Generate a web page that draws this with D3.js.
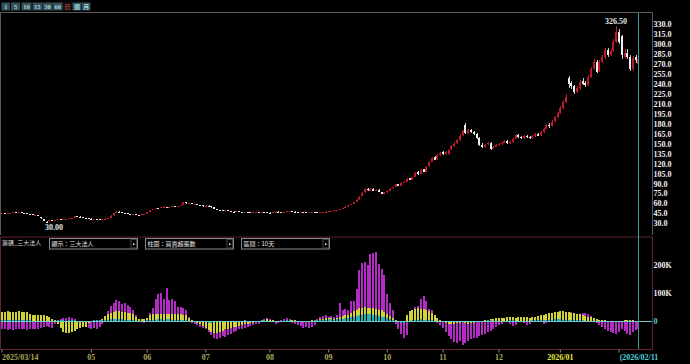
<!DOCTYPE html>
<html>
<head>
<meta charset="utf-8">
<script src="https://cdn.jsdelivr.net/npm/d3@7"></script>
<style>
  body { margin: 0; background: #000; overflow: hidden; }
  svg { display: block; }
</style>
</head>
<body>
<svg id="chart" width="690" height="364"></svg>
<script>
// trading calendar (weekdays minus exchange holidays)
var holidays = ["2025-04-03","2025-04-04","2025-05-01","2025-05-30","2025-09-29",
                "2025-10-06","2025-10-10","2025-10-24","2025-12-25","2026-01-01"];

// daily candles
var open = [44.5,44.9,44.3,44.9,45.7,46.4,45.9,46.4,45.8,45.1,
  44.2,43.5,42.0,42.6,39.0,36.5,32.5,32.8,34.5,33.9,
  35.3,36.1,35.5,36.3,36.7,37.6,38.5,40.8,40.2,39.4,
  38.4,37.7,37.1,36.5,36.9,36.4,35.9,36.3,37.2,38.5,
  41.8,45.3,47.3,46.6,45.7,44.9,44.3,43.5,43.9,42.7,
  42.5,43.4,44.2,46.8,50.0,51.2,53.2,52.7,54.3,54.9,
  54.1,54.6,55.4,55.1,56.3,57.8,61.8,60.1,60.7,58.8,
  59.5,57.9,56.9,55.4,56.5,55.3,53.9,51.6,50.4,49.7,
  48.7,49.4,48.6,47.7,47.1,47.9,47.1,46.4,46.9,46.3,
  45.8,46.5,47.4,46.7,47.1,46.5,46.2,45.9,46.7,47.6,
  47.1,46.4,47.2,47.9,48.3,47.7,47.1,46.7,47.5,47.0,
  46.2,46.6,47.3,46.7,46.1,46.4,46.9,47.5,48.1,48.7,
  49.6,50.3,51.1,52.8,55.4,57.8,59.4,62.4,66.0,70.8,
  76.5,81.5,79.2,81.8,78.6,80.2,77.2,74.2,76.8,79.3,
  82.5,84.5,88.8,86.3,91.0,92.5,97.5,95.3,99.5,106.8,
  104.5,111.0,107.8,115.5,122.8,129.5,126.5,133.5,136.8,134.5,
  134.5,141.5,146.5,150.5,155.5,162.5,178.0,166.5,170.5,167.5,
  164.5,159.0,148.5,145.5,148.8,151.5,142.5,145.5,148.3,149.3,
  151.3,153.8,150.7,152.3,157.5,163.5,160.3,158.7,161.3,160.2,
  158.3,161.8,164.5,162.3,167.5,172.5,178.5,176.3,183.5,190.5,
  196.5,203.5,212.5,248.0,240.5,236.5,227.5,233.5,243.5,240.5,
  238.5,250.5,263.5,273.5,258.5,273.5,280.5,291.5,283.5,290.5,
  303.5,318.0,312.0,280.0,287.0,280.5,262.5,280.0,270.0];
var high = [45.2,45.1,45.2,45.9,46.6,46.6,46.8,46.6,46.0,45.3,
  44.4,43.7,42.9,42.9,39.5,36.9,33.5,34.8,34.9,35.6,
  36.4,36.4,36.6,36.9,37.9,38.7,41.2,41.3,40.4,39.6,
  38.6,37.9,37.3,37.2,37.1,36.6,36.5,37.4,38.5,41.9,
  45.6,47.8,47.8,46.9,45.9,45.2,44.5,44.2,44.1,43.0,
  43.6,44.4,46.9,50.3,51.6,53.6,53.5,54.8,55.4,55.1,
  54.9,55.7,55.8,56.7,58.0,62.5,62.3,61.2,60.9,59.8,
  59.8,58.2,57.2,56.8,56.8,55.6,54.2,51.9,50.6,49.9,
  49.6,49.6,48.8,47.9,48.1,48.0,47.3,47.0,47.1,46.5,
  46.7,47.6,47.6,47.3,47.3,46.7,46.4,46.9,47.8,47.8,
  47.3,47.4,48.1,48.5,48.5,47.9,47.3,47.7,47.7,47.2,
  46.9,47.5,47.5,46.9,46.8,47.3,47.9,48.3,48.9,49.8,
  50.6,51.4,52.9,55.6,58.0,59.6,62.6,66.0,70.5,77.0,
  82.5,83.0,82.5,82.5,81.0,81.0,77.8,77.0,79.5,82.8,
  85.0,89.5,89.5,91.5,93.5,97.5,98.5,100.0,107.5,108.5,
  111.0,112.0,116.0,123.5,130.0,131.0,134.5,138.0,139.0,139.5,
  142.5,147.5,152.0,157.0,164.0,170.0,181.0,172.0,172.5,169.0,
  166.0,160.5,151.0,150.0,152.5,153.0,146.5,149.5,150.5,152.5,
  155.0,155.0,153.5,158.5,165.0,165.0,162.0,163.0,163.5,161.5,
  163.0,166.0,166.0,169.0,174.0,180.0,181.0,185.0,192.0,198.0,
  206.0,215.0,224.0,252.0,244.0,238.0,236.0,246.0,248.0,244.0,
  253.0,266.0,277.0,276.0,276.0,284.0,294.0,294.0,293.0,307.0,
  326.5,322.0,314.0,292.0,292.0,284.0,282.0,284.0,281.0];
var low = [44.2,43.9,44.0,44.7,45.4,45.5,45.6,45.4,44.7,44.0,
  43.3,41.9,41.8,41.2,37.0,33.2,30.0,32.5,33.2,33.6,
  35.0,35.0,35.2,36.0,36.4,37.3,38.2,39.6,39.0,37.9,
  37.3,36.7,36.2,36.3,36.0,35.7,35.6,36.0,37.0,38.2,
  41.5,45.0,46.1,45.3,44.5,43.9,43.3,43.2,42.4,42.1,
  42.2,43.1,44.0,46.5,49.7,50.9,52.3,52.4,53.9,53.7,
  53.8,54.3,54.7,54.9,56.0,57.5,59.8,59.7,58.6,58.5,
  57.5,56.5,55.2,55.1,55.0,53.5,51.2,49.9,49.3,48.5,
  48.5,48.3,47.4,46.9,46.9,46.8,46.2,46.1,46.0,45.6,
  45.6,46.3,46.6,46.5,46.2,45.9,45.8,45.7,46.5,46.8,
  46.3,46.2,47.0,47.7,47.4,46.8,46.5,46.5,46.7,46.1,
  46.0,46.4,46.4,46.0,45.9,46.2,46.7,47.3,47.9,48.5,
  49.3,50.0,50.8,52.5,55.0,57.3,59.0,62.0,65.5,70.5,
  76.0,78.5,78.8,78.5,78.0,76.5,73.5,73.8,76.0,78.8,
  82.0,84.0,85.5,86.0,90.0,92.0,94.5,95.0,99.0,103.0,
  104.0,107.0,107.5,115.0,122.0,125.0,126.0,132.0,133.0,133.5,
  133.0,140.5,145.5,149.5,154.5,161.0,164.0,165.0,166.0,162.5,
  157.0,147.0,143.5,144.5,147.5,140.5,141.5,144.5,147.0,148.0,
  150.5,149.5,149.5,151.5,156.5,158.5,157.5,157.5,158.5,157.0,
  157.5,160.5,161.0,161.5,166.5,171.5,174.0,175.5,182.5,189.0,
  195.0,202.0,211.0,234.0,232.0,225.0,226.0,231.0,238.0,235.0,
  237.0,249.0,261.0,256.0,257.0,271.0,278.0,281.0,282.0,288.0,
  302.0,300.0,278.0,277.0,278.0,259.0,260.0,272.0,268.0];
var close = [44.8,44.2,44.9,45.6,46.3,45.8,46.5,45.7,45.0,44.3,
  43.6,42.2,42.5,41.6,37.5,33.8,31.2,34.3,33.6,35.2,
  36.0,35.4,36.2,36.6,37.5,38.3,40.6,40.0,39.3,38.2,
  37.6,37.0,36.5,36.8,36.3,36.0,36.2,37.1,38.2,41.5,
  45.0,47.2,46.5,45.6,44.8,44.2,43.6,43.8,42.6,42.4,
  43.3,44.0,46.5,49.8,51.0,53.0,52.6,54.2,54.8,54.0,
  54.5,55.3,55.0,56.2,57.5,61.5,60.2,60.6,59.0,59.4,
  57.8,56.8,55.5,56.4,55.2,53.8,51.5,50.2,49.6,48.8,
  49.3,48.5,47.6,47.2,47.8,47.0,46.5,46.8,46.2,45.9,
  46.4,47.3,46.8,47.0,46.4,46.1,46.0,46.6,47.5,47.0,
  46.5,47.1,47.8,48.2,47.6,47.0,46.8,47.4,46.9,46.3,
  46.7,47.2,46.6,46.2,46.5,47.0,47.6,48.0,48.6,49.5,
  50.2,51.0,52.5,55.0,57.5,59.0,62.0,65.5,70.0,76.0,
  81.0,79.5,81.5,79.0,80.0,77.0,74.5,76.5,79.0,82.0,
  84.0,88.5,86.0,90.5,92.0,96.5,95.0,99.0,106.0,104.0,
  110.0,107.5,115.0,122.0,128.5,126.0,133.0,136.0,134.0,138.0,
  141.0,146.0,150.0,155.0,162.0,168.5,166.0,170.0,167.0,164.0,
  158.0,148.0,145.0,148.5,151.0,142.0,145.0,148.0,149.0,151.0,
  153.5,150.5,152.0,157.0,163.0,160.0,158.5,161.0,160.0,158.0,
  161.5,164.0,162.0,167.0,172.0,178.0,176.0,183.0,190.0,196.0,
  203.0,212.0,220.0,240.0,236.0,227.0,233.0,243.0,240.0,238.0,
  250.0,263.0,273.0,258.0,273.0,280.0,291.0,283.0,290.0,303.0,
  318.0,303.0,283.0,286.0,280.0,262.0,279.0,276.0,278.0];

// 10-day net buy/sell (thousand lots): foreign, investment trust, dealers
var foreign = [-28,-30,-32,-30,-31,-29,-30,-28,-30,-31,
  -30,-29,-28,-30,-26,-22,-18,-20,-24,-10,
  5,8,10,12,14,10,8,-6,-18,-20,
  -22,-26,-28,-24,-27,-20,-12,10,35,55,
  65,75,70,62,64,57,50,40,20,5,
  -5,-8,6,30,45,80,95,100,80,117,
  75,80,70,50,50,45,40,15,-8,-12,
  -15,-20,-25,-30,-40,-50,-60,-65,-62,-55,
  -58,-50,-45,-40,-35,-30,-28,-25,-22,-18,
  -15,-12,-10,-5,6,10,8,-5,-10,-6,
  5,8,12,6,-8,-12,-15,-18,-25,-22,
  -25,-20,-15,8,15,18,20,16,18,14,
  22,65,40,42,38,70,72,115,183,208,
  210,200,240,243,245,205,185,165,95,63,
  40,-10,-30,-45,-60,-50,25,28,50,55,
  80,90,70,42,38,10,-8,-15,-25,-40,
  -55,-65,-75,-80,-70,-86,-78,-72,-65,-60,
  -62,-55,-50,-48,-40,-35,-30,-22,-15,-10,
  8,12,-12,-18,-15,10,14,-8,-15,-10,
  12,16,18,8,-10,-6,12,20,25,28,
  30,25,22,28,32,30,26,22,28,30,
  25,18,10,-8,-15,-22,-30,-35,-40,-42,
  -48,-38,-30,-35,-45,-50,-40,-32,-28];
var trust = [33,33,34,33,32,33,34,33,32,33,
  25,22,22,21,22,20,18,14,8,2,
  -10,-25,-38,-42,-43,-40,-35,-28,-25,-22,
  -20,-8,-4,-2,3,5,8,18,25,30,
  33,34,35,33,32,30,28,25,15,8,
  6,8,12,20,24,26,25,24,26,25,
  24,25,26,25,24,22,20,10,2,-4,
  -8,-12,-18,-25,-32,-38,-42,-44,-40,-35,
  -30,-28,-25,-22,-20,-18,-16,-12,-10,-8,
  -6,-5,-3,3,4,6,5,3,-2,-4,
  -5,-3,2,4,5,3,-2,-4,-5,-3,
  -2,3,5,4,6,8,10,12,10,8,
  12,15,18,20,22,30,36,40,45,48,
  50,48,46,45,42,40,38,32,25,18,
  12,5,-5,-8,-6,20,35,40,42,45,
  44,42,40,36,30,22,12,5,-4,-8,
  -10,-12,-10,-8,-6,-5,-8,-10,-8,-6,
  -4,-3,-2,2,4,6,8,10,12,10,
  12,14,15,13,12,14,15,16,14,12,
  14,16,18,20,22,25,28,30,32,33,
  34,35,33,32,30,28,26,24,20,18,
  16,14,12,8,5,3,2,-2,-3,-4,
  -5,-3,-2,2,3,4,2,1,-2];
var dealer = [3,3,2,2,3,2,2,3,2,2,
  2,1,1,-2,-3,-4,-3,-2,-1,1,
  2,3,2,1,2,3,2,1,-1,-2,
  -2,-1,1,2,2,3,3,4,5,6,
  6,7,8,6,5,4,3,2,1,0,
  -1,1,2,3,4,5,6,6,5,6,
  6,5,4,4,3,3,2,1,0,-1,
  -2,-3,-4,-5,-6,-6,-5,-4,-3,-3,
  -2,-2,-1,-1,0,1,1,2,1,0,
  0,1,1,2,2,1,0,-1,-1,0,
  1,1,2,2,1,0,-1,-1,-2,-2,
  -1,0,2,3,4,5,5,6,6,5,
  6,7,8,10,12,14,16,18,20,22,
  24,25,24,22,20,18,16,14,10,6,
  3,-2,-4,-6,-8,-5,-2,2,4,5,
  6,5,4,3,2,0,-2,-3,-4,-4,
  -5,-5,-4,-4,-3,-3,-2,-2,-1,-1,
  0,0,1,1,2,2,1,1,0,0,
  1,1,2,2,1,1,0,0,1,1,
  2,2,3,3,4,4,5,5,6,6,
  6,5,5,4,4,3,3,2,2,1,
  1,0,-1,-1,-2,-2,-3,-3,-2,-2,
  -3,-2,-2,-1,-1,-2,-2,-1,-1];

var priceTicks = d3.range(30, 331, 15);
var volTicks = [0, 100, 200];
var periodButtons = ["1","5","10","15","30","60","日","週","月"];
var dropdowns = ["顯示：三大法人","柱圖：買賣超張數","區間：10天"];
var panelTitle = "籌碼_三大法人";

// build the trading days
var fmt = d3.timeFormat("%Y-%m-%d");
var days = d3.timeDay.range(new Date(2025, 2, 14), new Date(2026, 1, 12))
  .filter(function (d) { return d.getDay() > 0 && d.getDay() < 6 && holidays.indexOf(fmt(d)) < 0; });
var n = Math.min(days.length, close.length);
var idx = d3.range(n);

var svg = d3.select("#chart");
var serif = "'Liberation Serif', 'DejaVu Serif', serif";
var cjk = "'Noto Sans CJK TC', 'Noto Sans CJK SC', sans-serif";

// ---- toolbar
var btnX = [1.5, 11, 21.5, 32.5, 42.5, 53, 63, 72.5, 82], btnW = [8.5, 9, 10, 9.5, 10, 9.5, 8.5, 9, 8.5];
var tb = svg.append("g");
periodButtons.forEach(function (t, i) {
  var sel = t === "日";
  tb.append("rect").attr("x", btnX[i]).attr("y", 2.5).attr("width", btnW[i]).attr("height", 8)
    .attr("fill", sel ? "#151515" : "#37505a");
  tb.append("text").attr("x", btnX[i] + btnW[i] / 2).attr("y", 9)
    .attr("text-anchor", "middle").attr("fill", sel ? "#a83030" : "#9fdbe0")
    .attr("font-family", /[0-9]/.test(t) ? serif : cjk).attr("font-weight", "bold")
    .attr("font-size", /[0-9]/.test(t) ? 6.5 : 6).text(t);
});

// ---- frames
var frame = svg.append("g").attr("fill", "none");
frame.append("path").attr("d", "M0.5,235 V12.5 H652.5 V235").attr("stroke", "#5a5a5a");
frame.append("path").attr("d", "M0.5,237 H652.5 V349.5 H0.5 Z").attr("stroke", "#5c2434");

// ---- scales
var x = d3.scaleBand().domain(idx).range([1, 639.5]).paddingInner(0.28);
var bx = function (i) { return Math.round(x(i)); };   // snap bars to pixels
var xc = function (i) { return bx(i) + 1; };
var y = d3.scaleLinear().domain([30, 330]).range([223.3, 24]);
var yv = d3.scaleLinear().domain([0, 200]).range([321, 265]);

// ---- candles
var upCol = "#c01a2a", downCol = "#eeeeee";
var cg = svg.append("g").attr("shape-rendering", "crispEdges");
cg.selectAll("rect.wick").data(idx).join("rect").attr("class", "wick")
  .attr("x", function (i) { return bx(i) + 0.5; }).attr("width", 1)
  .attr("y", function (i) { return y(high[i]); })
  .attr("height", function (i) { return Math.max(1, y(low[i]) - y(high[i])); })
  .attr("fill", function (i) { return close[i] >= open[i] ? upCol : "#cfcfcf"; });
cg.selectAll("rect.body").data(idx).join("rect").attr("class", "body")
  .attr("x", bx)
  .attr("width", 2)
  .attr("y", function (i) { return y(Math.max(open[i], close[i])); })
  .attr("height", function (i) { return Math.max(1, Math.abs(y(open[i]) - y(close[i]))); })
  .attr("fill", function (i) { return close[i] >= open[i] ? upCol : downCol; });

// high / low marks
var hiI = d3.maxIndex(high), loI = d3.minIndex(low);
svg.append("text").attr("x", xc(hiI)).attr("y", y(high[hiI]) - 2.5).attr("text-anchor", "middle")
  .attr("fill", "#e6e6e6").attr("font-family", serif).attr("font-weight", "bold").attr("font-size", 8)
  .text(high[hiI].toFixed(2));
svg.append("text").attr("x", xc(loI) - 2).attr("y", y(low[loI]) + 7).attr("text-anchor", "start")
  .attr("fill", "#e6e6e6").attr("font-family", serif).attr("font-weight", "bold").attr("font-size", 8)
  .text(low[loI].toFixed(2));

// price axis
var ay = svg.append("g").attr("transform", "translate(652,0)")
  .call(d3.axisRight(y).tickValues(priceTicks).tickSize(0).tickPadding(1.5).tickFormat(d3.format(".1f")));
ay.select(".domain").remove();
ay.selectAll("text").attr("fill", "#f0f0f0").attr("font-family", serif).attr("font-weight", "bold").attr("font-size", 8);

// ---- indicator toolbar
svg.append("text").attr("x", 2).attr("y", 245).attr("fill", "#dcdcdc")
  .attr("font-family", cjk).attr("font-size", 6).text(panelTitle);
var ddX = [49.5, 145.5, 241.5];
dropdowns.forEach(function (t, i) {
  var g = svg.append("g").attr("transform", "translate(" + ddX[i] + ",238.5)");
  g.append("rect").attr("width", 88).attr("height", 10.5).attr("fill", "#000").attr("stroke", "#8a8a8a");
  g.append("rect").attr("x", 81.5).attr("y", 1).attr("width", 5.5).attr("height", 8.5).attr("fill", "#000").attr("stroke", "#6a6a6a").attr("stroke-width", 0.6);
  g.append("rect").attr("x", 83.5).attr("y", 5).attr("width", 1.5).attr("height", 1.5).attr("fill", "#fff");
  g.append("text").attr("x", 2).attr("y", 7.8).attr("fill", "#e8e8e8")
    .attr("font-family", cjk).attr("font-size", 6).text(t);
});

// ---- institutional bars
var bg = svg.append("g").attr("shape-rendering", "crispEdges");
[[foreign, "#b22cc4"], [trust, "#d2d23a"], [dealer, "#2bb0b2"]].forEach(function (s) {
  bg.append("g").selectAll("rect").data(idx).join("rect")
    .attr("x", bx)
    .attr("width", 2)
    .attr("y", function (i) { return Math.min(yv(s[0][i]), yv(0)); })
    .attr("height", function (i) { return Math.max(0.5, Math.abs(yv(s[0][i]) - yv(0))); })
    .attr("fill", s[1]);
});
svg.append("line").attr("x1", 1).attr("x2", 652).attr("y1", yv(0) + 0.5).attr("y2", yv(0) + 0.5)
  .attr("stroke", "#6fc8cc").attr("stroke-width", 1);

var av = svg.append("g").attr("transform", "translate(652,0)")
  .call(d3.axisRight(yv).tickValues(volTicks).tickSize(0).tickPadding(1.5)
    .tickFormat(function (d) { return d ? d + "K" : "0"; }));
av.select(".domain").remove();
av.selectAll("text").attr("fill", function (d) { return d ? "#f0f0f0" : "#4fd0d4"; })
  .attr("font-family", serif).attr("font-weight", "bold").attr("font-size", 8);

// ---- cursor line
svg.append("line").attr("x1", xc(n - 1) + 0.5).attr("x2", xc(n - 1) + 0.5).attr("y1", 13).attr("y2", 349)
  .attr("stroke", "#3d9a9c").attr("stroke-width", 1);

// ---- date axis (first trading day of each month, skipping one too close to the start)
var monthStarts = idx.filter(function (i) {
  return i === 0 || (days[i].getMonth() !== days[i - 1].getMonth() && xc(i) - xc(0) > 45);
});
var ax = svg.append("g").attr("transform", "translate(0,349.5)")
  .call(d3.axisBottom(x).tickValues(monthStarts).tickSize(3).tickPadding(2)
    .tickFormat(function (i) {
      var d = days[i];
      if (i === 0) return d3.timeFormat("%Y/%m/%d")(d);
      if (d.getMonth() === 0) return d3.timeFormat("%Y/%m")(d);
      return d3.timeFormat("%m")(d);
    }));
ax.select(".domain").remove();
ax.selectAll("line").attr("stroke", "#8a8a8a");
ax.selectAll("text").attr("font-family", serif).attr("font-weight", "bold").attr("font-size", 8)
  .attr("fill", function (i) { return days[i].getMonth() === 0 ? "#e8e840" : "#a9a95a"; })
  .attr("text-anchor", function (i) { return i === 0 ? "start" : "middle"; });
// the last month label sits under the cursor date
ax.selectAll(".tick").filter(function (i) { return i > n - 12; }).select("text").remove();
svg.append("text").attr("x", xc(n - 1) + 1).attr("y", 360).attr("text-anchor", "middle")
  .attr("fill", "#4fd0d4").attr("font-family", serif).attr("font-weight", "bold").attr("font-size", 8)
  .text("(" + d3.timeFormat("%Y/%m/%d")(days[n - 1]));
</script>
</body>
</html>
